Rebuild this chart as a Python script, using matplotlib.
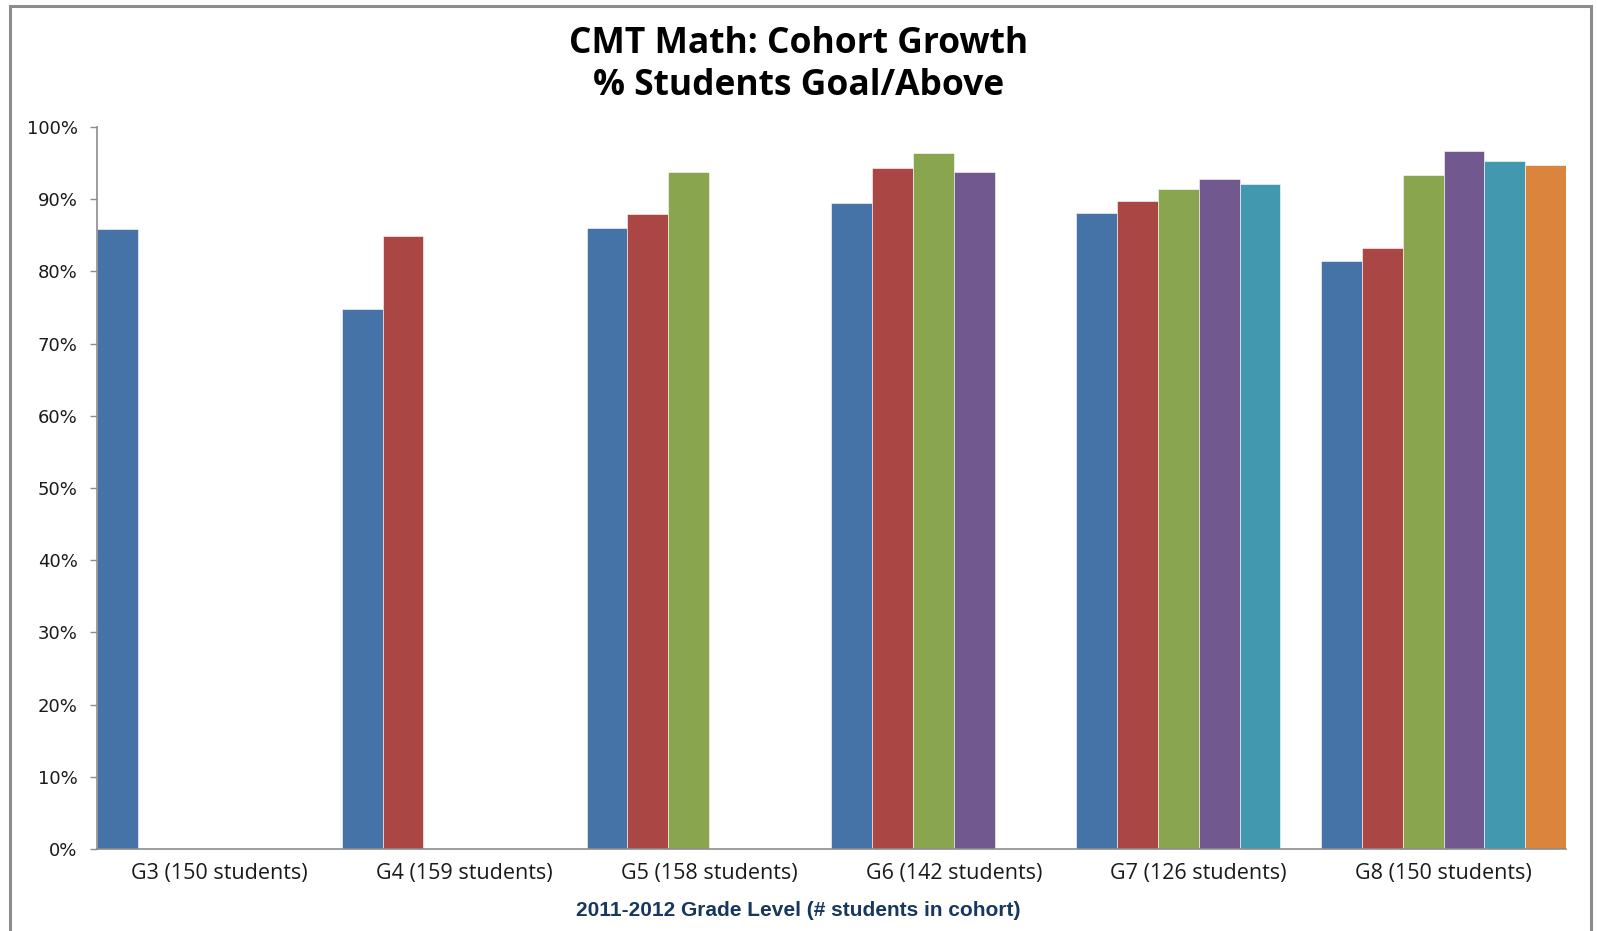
import matplotlib
matplotlib.use('Agg')
import matplotlib.pyplot as plt
from matplotlib.patches import Rectangle
import numpy as np

# cohort groups (x axis) and the test year series inside each group
groups = ['G3 (150 students)', 'G4 (159 students)', 'G5 (158 students)',
          'G6 (142 students)', 'G7 (126 students)', 'G8 (150 students)']
series_names = ['Grade 3', 'Grade 4', 'Grade 5', 'Grade 6', 'Grade 7', 'Grade 8']
colors = ['#4572A7', '#AA4643', '#89A54E', '#71588F', '#4198AF', '#DB843D']

# % goal/above, one list per series (nan = no result yet for that cohort)
grade3 = [85.9, 74.8, 86.0, 89.5, 88.1, 81.4]
grade4 = [np.nan, 84.9, 88.0, 94.3, 89.8, 83.3]
grade5 = [np.nan, np.nan, 93.7, 96.4, 91.4, 93.4]
grade6 = [np.nan, np.nan, np.nan, 93.7, 92.8, 96.7]
grade7 = [np.nan, np.nan, np.nan, np.nan, 92.1, 95.3]
grade8 = [np.nan, np.nan, np.nan, np.nan, np.nan, 94.7]
values = [grade3, grade4, grade5, grade6, grade7, grade8]

yticks = np.arange(0, 101, 10)
ytick_labels = [f'{v}%' for v in yticks]

nser = len(series_names)
W, H = 1597, 931
fig = plt.figure(figsize=(W / 100, H / 100), dpi=100)
fig.patch.set_facecolor('white')

# outer chart border (bottom edge runs off the picture)
fig.patches.append(Rectangle((9.5 / W, -0.05), (1591 - 9.5) / W, 1.05 - 6 / H,
                             transform=fig.transFigure, fill=False,
                             edgecolor='#8C8C8C', linewidth=2.2))

ax = fig.add_axes([97 / W, 1 - 849 / H, (1566 - 97) / W, (849 - 127) / H])

base = np.arange(len(groups)) * nser
for j in range(nser):
    ax.bar(base + j, values[j], width=1.0, align='edge', color=colors[j],
           edgecolor='white', linewidth=0.4, label=series_names[j], zorder=2)

ax.set_xlim(0, nser * len(groups))
ax.set_ylim(0, 100)
ax.set_xticks(base + nser / 2)
ax.set_xticklabels(groups, fontsize=15.5, family='Open Sans', color='#1a1a1a')
ax.tick_params(axis='x', length=0, pad=10)
ax.set_yticks(yticks)
ax.set_yticklabels(ytick_labels, fontsize=13, family='DejaVu Sans', color='#1a1a1a')
ax.tick_params(axis='y', length=5, width=1, color='#8C8C8C', pad=9, direction='out')

for s in ['top', 'right']:
    ax.spines[s].set_visible(False)
for s in ['left', 'bottom']:
    ax.spines[s].set_color('#8C8C8C')
    ax.spines[s].set_linewidth(1.2)

fig.text(0.5, 1 - 44 / H, 'CMT Math: Cohort Growth', ha='center', va='center',
         fontsize=25.5, fontweight='bold', family='Open Sans', color='black')
fig.text(0.5, 1 - 86 / H, '% Students Goal/Above', ha='center', va='center',
         fontsize=25.5, fontweight='bold', family='Open Sans', color='black')
fig.text(0.5, 1 - 911 / H, '2011-2012 Grade Level (# students in cohort)',
         ha='center', va='center', fontsize=15, fontweight='bold',
         family='Liberation Sans', color='#17375E')

fig.savefig('out.png', dpi=100, facecolor='white')
